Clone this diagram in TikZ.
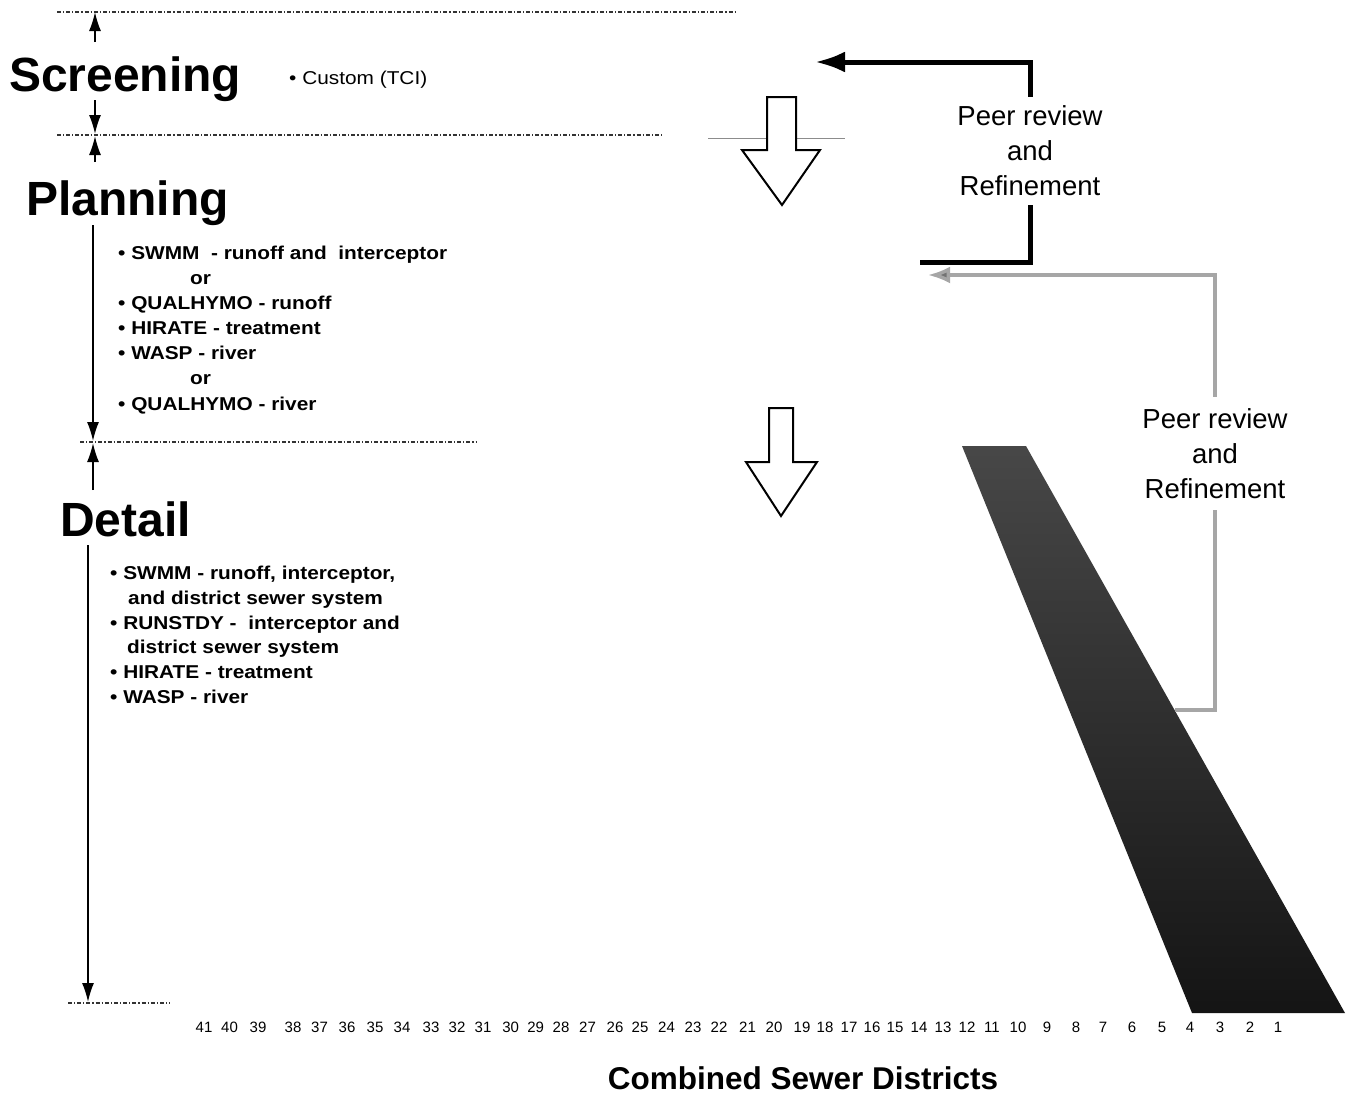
\documentclass[tikz,border=0pt]{standalone}
\usepackage{fontspec}
\setmainfont{Liberation Sans}
\newfontfamily\smallf[FakeStretch=1.12]{Liberation Sans}
\usetikzlibrary{arrows.meta}
\tikzset{
  dimarrow/.style={line width=1.5pt,-{Latex[length=19pt,width=12pt]}},
  sepline/.style={line width=1.3pt,black!80,dash pattern=on 4pt off 2pt on 1.2pt off 2pt},
  blockarrow/.style={draw,line width=2pt,fill=white,line join=miter},
  fb/.style={line width=5pt,black},
  gfb/.style={line width=3.5pt,black!35},
  bigl/.style={font=\fontsize{48}{50}\selectfont\bfseries,inner sep=0pt,anchor=base west},
  itemtxt/.style={font=\smallf\fontsize{18.6}{20}\selectfont\bfseries,inner sep=0pt,anchor=base west},
  peer/.style={font=\fontsize{27.5}{35}\selectfont,align=center,inner sep=0pt},
  num/.style={font=\fontsize{15}{16}\selectfont,inner sep=0pt,anchor=base},
}
\begin{document}
\begin{tikzpicture}[x=1pt,y=-1pt]
\useasboundingbox (0,0) rectangle (1351,1095);
% separator lines
\draw[sepline] (57,12) -- (735,12);
\draw[sepline] (57,135) -- (662,135);
\draw[line width=1pt,black!45] (708,138) -- (845,138);
\draw[sepline] (80,442) -- (476,442);
\draw[sepline] (68,1003) -- (170,1003);
% dimension arrows
\coordinate (s1t) at (95,42); \coordinate (s1h) at (95,12);
\coordinate (s2t) at (95,100); \coordinate (s2h) at (95,134);
\coordinate (p1t) at (95,162); \coordinate (p1h) at (95,136);
\coordinate (p2t) at (93,225); \coordinate (p2h) at (93,441);
\coordinate (d1t) at (93,490); \coordinate (d1h) at (93,443);
\coordinate (d2t) at (88,545); \coordinate (d2h) at (88,1002);
\draw[dimarrow] (s1t) -- (s1h);
\draw[dimarrow] (s2t) -- (s2h);
\draw[dimarrow] (p1t) -- (p1h);
\draw[dimarrow] (p2t) -- (p2h);
\draw[dimarrow] (d1t) -- (d1h);
\draw[dimarrow] (d2t) -- (d2h);
% headings
\node[bigl] (scr) at (9,91) {Screening};
\node[bigl] (pla) at (26,215) {Planning};
\node[bigl] (det) at (60,536) {Detail};
\node[itemtxt,font=\smallf\fontsize{18.6}{20}\selectfont] (cus) at (289,84.5) {• Custom (TCI)};
% planning items
\node[itemtxt] (pl1) at (118,259) {• SWMM\ \ - runoff and\ \ interceptor};
\node[itemtxt] (pl2) at (190,284) {or};
\node[itemtxt] (pl3) at (118,309.5) {• QUALHYMO - runoff};
\node[itemtxt] (pl4) at (118,334.5) {• HIRATE - treatment};
\node[itemtxt] (pl5) at (118,359.5) {• WASP - river};
\node[itemtxt] (pl6) at (190,384.5) {or};
\node[itemtxt] (pl7) at (118,410) {• QUALHYMO - river};
% detail items
\node[itemtxt] (dt1) at (110,579.5) {• SWMM - runoff, interceptor,};
\node[itemtxt] (dt2) at (128,604) {and district sewer system};
\node[itemtxt] (dt3) at (110,629) {• RUNSTDY -\ \ interceptor and};
\node[itemtxt] (dt4) at (127,653.5) {district sewer system};
\node[itemtxt] (dt5) at (110,678) {• HIRATE - treatment};
\node[itemtxt] (dt6) at (110,703) {• WASP - river};
% block arrows
\draw[blockarrow] (767,97) -- (796,97) -- (796,150) -- (820,150) -- (782,205) -- (742,150) -- (767,150) -- cycle;
\draw[blockarrow] (769,408) -- (793,408) -- (793,462) -- (817,462) -- (781,516) -- (746,462) -- (769,462) -- cycle;
% wedge
\shade[top color=black!72,bottom color=black!92] (962,446) -- (1026,446) -- (1345,1013) -- (1192,1013) -- cycle;
% peer review nodes
\node[peer] (peer1) at (1030,151) {Peer review\\and\\Refinement};
\node[peer] (peer2) at (1215,454) {Peer review\\and\\Refinement};
% feedback connectors
\coordinate (scrtarget) at (815,62);
\coordinate (fbend) at (920,262);
\draw[fb,-{Latex[length=30pt,width=21pt]}] ([yshift=9pt]peer1.north) |- (scrtarget);
\draw[fb] ([yshift=-9pt]peer1.south) |- (fbend);
\coordinate (wedgept) at (1175,710);
\coordinate (plantarget) at (928,275);
\draw[gfb] (wedgept) -| ([yshift=-11pt]peer2.south);
\draw[gfb,-{Latex[length=22pt,width=17pt,fill=black!55]}] ([yshift=12pt]peer2.north) |- (plantarget);
% district numbers
\foreach \n/\xx in {41/204,40/229.5,39/258,38/293,37/319.5,36/347,35/375,34/402,33/431,32/457,31/483,30/510.6,29/535.7,28/561,27/587.5,26/615,25/640,24/666.5,23/693,22/719,21/747.5,20/774,19/802,18/825,17/849,16/872,15/895,14/919,13/943,12/967,11/992,10/1018,9/1047,8/1076,7/1103,6/1132,5/1162,4/1190,3/1220,2/1250,1/1278}
  {\node[num] (n\n) at (\xx,1032) {\n};}
\node[font=\fontsize{31.5}{33}\selectfont\bfseries,inner sep=0pt,anchor=base] (csd) at (803,1089) {Combined Sewer Districts};
\end{tikzpicture}
\end{document}
